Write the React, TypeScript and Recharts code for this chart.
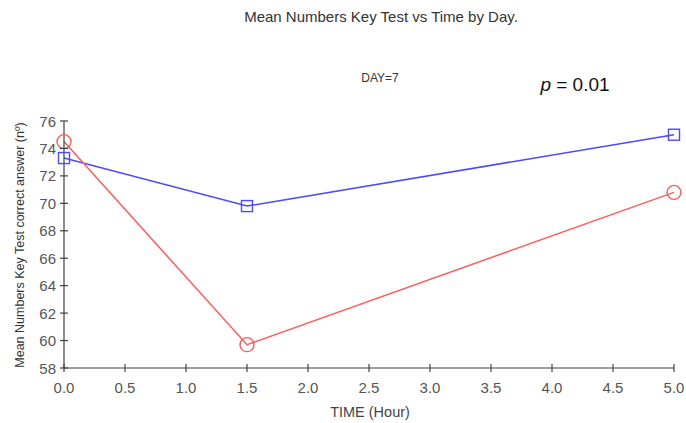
import React from "react";
import { LineChart, Line, XAxis, YAxis, Customized } from "recharts";

const times = [0, 1.5, 5];
const blueValues = [73.3, 69.8, 75.0];
const redValues = [74.5, 59.7, 70.8];
const xTicks = [0, 0.5, 1, 1.5, 2, 2.5, 3, 3.5, 4, 4.5, 5];
const yTicks = [58, 60, 62, 64, 66, 68, 70, 72, 74, 76];

const data = times.map((t, i) => ({ t, blue: blueValues[i], red: redValues[i] }));

const FONT = "'Liberation Sans', Arial, sans-serif";
const AXIS = "#404040";

const XTick = (props: any) => {
  const { x, y, payload } = props;
  return (
    <g>
      <line x1={x} x2={x} y1={y - 12} y2={y - 4} stroke={AXIS} strokeWidth={1.2} />
      <text x={x} y={y + 17} textAnchor="middle" fill="#555" fontSize={15} fontFamily={FONT}>
        {Number(payload.value).toFixed(1)}
      </text>
    </g>
  );
};

const YTick = (props: any) => {
  const { x, y, payload } = props;
  return (
    <g>
      <line x1={x + 4} x2={x + 12} y1={y} y2={y} stroke={AXIS} strokeWidth={1.2} />
      <text x={x} y={y + 5.5} textAnchor="end" fill="#555" fontSize={15} fontFamily={FONT}>
        {payload.value}
      </text>
    </g>
  );
};

const SquareDot = (props: any) => {
  const { cx, cy } = props;
  if (cx == null || cy == null) return null;
  return <rect x={cx - 5.5} y={cy - 5.5} width={11} height={11} fill="none" stroke="#4a4aff" strokeWidth={1.4} />;
};

const CircleDot = (props: any) => {
  const { cx, cy } = props;
  if (cx == null || cy == null) return null;
  return <circle cx={cx} cy={cy} r={7} fill="none" stroke="#ff5a5a" strokeWidth={1.4} />;
};

const Annotations = () => (
  <g fontFamily={FONT}>
    <text x={381} y={22} textAnchor="middle" fill="#333" fontSize={15}>
      Mean Numbers Key Test vs Time by Day.
    </text>
    <text x={380} y={82} textAnchor="middle" fill="#333" fontSize={12}>
      DAY=7
    </text>
    <text x={575} y={91} textAnchor="middle" fill="#111" fontSize={19}>
      <tspan fontStyle="italic">p</tspan> = 0.01
    </text>
    <text x={24} y={245} textAnchor="middle" fill="#333" fontSize={12.5} transform="rotate(-90 24 245)">
      Mean Numbers Key Test correct answer  (nº)
    </text>
    <text x={370} y={417} textAnchor="middle" fill="#444" fontSize={14.5}>
      TIME (Hour)
    </text>
  </g>
);

export default function App() {
  return (
    <div style={{ position: "absolute", left: 0, top: 0, width: 686, height: 423, background: "#fff" }}>
      <LineChart width={686} height={423} data={data} margin={{ top: 121, right: 12, left: 0, bottom: 0 }}>
        <XAxis
          dataKey="t"
          type="number"
          domain={[0, 5]}
          ticks={xTicks}
          height={55}
          stroke={AXIS}
          strokeWidth={1.2}
          tickLine={false}
          tickSize={0}
          tickMargin={8}
          tick={<XTick />}
          interval={0}
        />
        <YAxis
          type="number"
          domain={[58, 76]}
          ticks={yTicks}
          width={64}
          stroke={AXIS}
          strokeWidth={1.2}
          tickLine={false}
          tickSize={0}
          tickMargin={8}
          tick={<YTick />}
          interval={0}
        />
        <Line
          dataKey="blue"
          stroke="#4a4aff"
          strokeWidth={1.5}
          dot={<SquareDot />}
          isAnimationActive={false}
        />
        <Line
          dataKey="red"
          stroke="#ff5a5a"
          strokeWidth={1.5}
          dot={<CircleDot />}
          isAnimationActive={false}
        />
        <Customized component={Annotations} />
      </LineChart>
    </div>
  );
}
